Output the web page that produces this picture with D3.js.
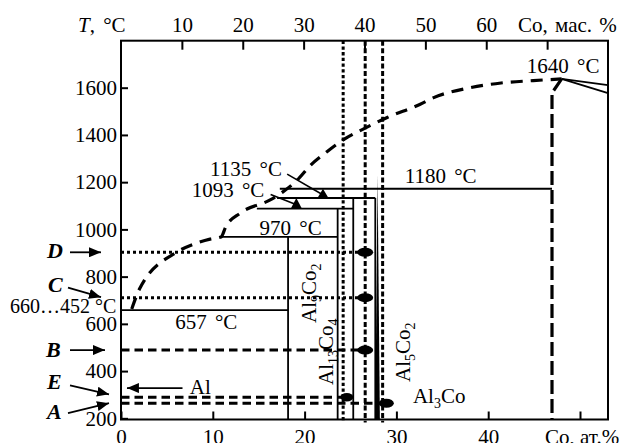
<!DOCTYPE html>
<html>
<head>
<meta charset="utf-8">
<script src="https://cdn.jsdelivr.net/npm/d3@7"></script>
<style>
body { margin: 0; background: #fff; }
text { font-family: "Liberation Serif", "DejaVu Serif", serif; fill: #000; }
</style>
</head>
<body>
<div id="chart"></div>
<script>
// ticks
const atTicks = [0, 10, 20, 30, 40, 50];
const wtTicks = [10, 20, 30, 40, 50, 60, 70];
const tempTicks = [200, 400, 600, 800, 1000, 1200, 1400, 1600];

// liquidus, Al side (at.% Co, °C)
const liquidus = [[1.17, 663], [2.07, 752], [6.1, 904], [8.3, 943], [9.7, 959], [10.9, 968],
  [11.4, 1010], [13.0, 1069], [16.2, 1124], [17.6, 1158], [19.2, 1209], [20.6, 1270],
  [22.4, 1328], [24.2, 1379], [26.6, 1429], [29.0, 1474], [32.6, 1530], [34.0, 1557],
  [37.9, 1599], [41.4, 1620], [44.9, 1630], [48.0, 1637]];
const coSide = [[48.0, 1637], [46.95, 1578], [46.95, 195]];
const peakLines = [[[48.0, 1637], [53.05, 1611]], [[48.0, 1637], [53.05, 1577]]];

// invariant lines
const isoT = [658, 968, 1088, 1133, 1172];
const isoFrom = [0, 10.9, 14.8, 17.0, 17.3];
const isoTo = [18.2, 23.6, 25.3, 27.7, 46.95];

// phase boundaries
const phaseX = [18.2, 23.6, 25.3, 27.7];
const phaseTop = [968, 1088, 1133, 1133];
const al5co2 = [[27.95, 1230], [28.2, 195], [27.7, 195]];

// alloys
const alloyNames = ["D", "C", "B", "E", "A"];
const alloyT = [903, 711, 489, 289, 264];
const alloyEnd = [26.6, 26.6, 26.6, 24.6, 28.9];
const alloyStyle = ["dot", "dot", "dash", "dash", "dash"];
const sectionX = [24.2, 26.6, 28.5];
const sectionStyle = ["dot", "dash", "dash"];

var width = 628, height = 443
var margin = {left: 121, top: 40.7, right: 20, bottom: 23.5}
var W = width - margin.left - margin.right
var H = height - margin.top - margin.bottom

var svg = d3.select("#chart").append("svg")
    .attr("width", width).attr("height", height)

var defs = svg.append("defs")
defs.append("marker").attr("id", "ah")
    .attr("viewBox", "0 0 12 10").attr("refX", 12).attr("refY", 5)
    .attr("markerWidth", 12).attr("markerHeight", 10)
    .attr("markerUnits", "userSpaceOnUse").attr("orient", "auto")
    .append("path").attr("d", "M0,0L12,5L0,10z").attr("fill", "#000")

var g = svg.append("g").attr("transform", "translate(" + margin.left + "," + margin.top + ")")

var x = d3.scaleLinear().domain([0, 53.05]).range([0, W])
var xw = d3.scaleLinear().domain([0, 80]).range([0, W])
var y = d3.scaleLinear().domain([195, 1799]).range([H, 0])

var fs = 21

// axes
var xAxis = d3.axisBottom(x).tickValues(atTicks).tickSize(-8).tickSizeOuter(0).tickPadding(10)
    .tickFormat(d => d === 50 ? "" : d)
var gx = g.append("g").attr("transform", "translate(0," + H + ")").call(xAxis)

var topAxis = d3.axisTop(xw).tickValues(wtTicks).tickSize(-9).tickSizeOuter(0).tickPadding(9)
    .tickFormat(d => d === 70 ? "" : d)
var gt = g.append("g").call(topAxis)

var yAxis = d3.axisLeft(y).tickValues(tempTicks).tickSize(-7).tickSizeOuter(0).tickPadding(4)
    .tickFormat(d3.format("d"))
var gy = g.append("g").call(yAxis)

;[gx, gt, gy].forEach(a => {
  a.select(".domain").remove()
  a.selectAll(".tick line").attr("stroke", "#000").attr("stroke-width", 2)
  a.selectAll(".tick text").attr("font-size", fs).attr("font-family", "Liberation Serif")
})

g.append("rect").attr("x", 0).attr("y", 0).attr("width", W).attr("height", H)
    .attr("fill", "none").attr("stroke", "#000").attr("stroke-width", 2)

// axis titles
var tt = svg.append("text").attr("x", 78).attr("y", 32).attr("font-size", fs).attr("word-spacing", 3)
tt.append("tspan").attr("font-style", "italic").text("T")
tt.append("tspan").text(", °C")
svg.append("text").attr("x", 518).attr("y", 32).attr("font-size", fs).attr("word-spacing", 2).text("Co, мас. %")
svg.append("text").attr("x", 545).attr("y", 444).attr("font-size", fs).text("Co, ат.%")

var line = d3.line().x(d => x(d[0])).y(d => y(d[1]))
var smooth = d3.line().x(d => x(d[0])).y(d => y(d[1])).curve(d3.curveMonotoneX)

// composition sections (vertical)
sectionX.forEach((v, i) => {
  g.append("line").attr("x1", x(v)).attr("x2", x(v)).attr("y1", 0).attr("y2", H + 3)
      .attr("stroke", "#000").attr("stroke-width", 3)
      .attr("stroke-dasharray", sectionStyle[i] === "dot" ? "3.3,2.4" : "5,2.6")
})

// alloy lines (horizontal)
alloyT.forEach((t, i) => {
  g.append("line").attr("x1", 0).attr("x2", x(alloyEnd[i])).attr("y1", y(t)).attr("y2", y(t))
      .attr("stroke", "#000").attr("stroke-width", 3)
      .attr("stroke-dasharray", alloyStyle[i] === "dot" ? "3,3" : "8.5,5")
})

// liquidus
g.append("path").datum(liquidus).attr("d", smooth)
    .attr("fill", "none").attr("stroke", "#000").attr("stroke-width", 3.2)
    .attr("stroke-dasharray", "12,8")
g.append("path").datum(coSide).attr("d", line)
    .attr("fill", "none").attr("stroke", "#000").attr("stroke-width", 3.2)
    .attr("stroke-dasharray", "14,5")
peakLines.forEach(p => {
  g.append("path").datum(p).attr("d", line).attr("fill", "none")
      .attr("stroke", "#000").attr("stroke-width", 1.8)
})

// invariant lines and phase boundaries
isoT.forEach((t, i) => {
  g.append("line").attr("x1", x(isoFrom[i])).attr("x2", x(isoTo[i]))
      .attr("y1", y(t)).attr("y2", y(t)).attr("stroke", "#000").attr("stroke-width", 1.8)
})
phaseX.forEach((v, i) => {
  g.append("line").attr("x1", x(v)).attr("x2", x(v)).attr("y1", y(phaseTop[i])).attr("y2", H)
      .attr("stroke", "#000").attr("stroke-width", 1.8)
})
g.append("path").attr("d", line(al5co2) + "Z").attr("fill", "#000")

// peritectic markers
function tri(xv, tTop, tBot) {
  var cx = x(xv), t = y(tTop), b = y(tBot)
  return "M" + cx + "," + t + "L" + (cx + 5.5) + "," + b + "L" + (cx - 5.5) + "," + b + "Z"
}
g.append("path").attr("d", tri(22.0, 1172, 1133)).attr("fill", "#000")
g.append("path").attr("d", tri(19.1, 1133, 1088)).attr("fill", "#000")
g.append("line").attr("x1", x(18.1)).attr("y1", y(1234)).attr("x2", x(22.4)).attr("y2", y(1137))
    .attr("stroke", "#000").attr("stroke-width", 1.6)
g.append("line").attr("x1", x(16.3)).attr("y1", y(1148)).attr("x2", x(19.4)).attr("y2", y(1100))
    .attr("stroke", "#000").attr("stroke-width", 1.6)

// alloy points
var ellR = [[8, 4.5], [8, 4.5], [8, 4.5], [6.5, 4.2], [7.5, 4.5]]
alloyT.forEach((t, i) => {
  g.append("ellipse").attr("cx", x(alloyEnd[i])).attr("cy", y(t))
      .attr("rx", ellR[i][0]).attr("ry", ellR[i][1]).attr("fill", "#000")
})

// alloy arrows on the left
var arrowFrom = [[-51, 0], [-53, -10], [-51, 0], [-51, -12], [-53, 10]]
var arrowTo = [[-20, 0], [-20, -0.5], [-16, 0], [-12, -3], [-12, 0]]
var letterPos = [[-74, 6], [-73, -6], [-75, 7], [-74, -8], [-74, 16]]
alloyT.forEach((t, i) => {
  var yy = y(t)
  g.append("line").attr("x1", arrowFrom[i][0]).attr("y1", yy + arrowFrom[i][1])
      .attr("x2", arrowTo[i][0]).attr("y2", yy + arrowTo[i][1])
      .attr("stroke", "#000").attr("stroke-width", 1.8).attr("marker-end", "url(#ah)")
  g.append("text").attr("x", letterPos[i][0]).attr("y", yy + letterPos[i][1])
      .attr("font-size", 22).attr("font-weight", "bold").attr("font-style", "italic")
      .text(alloyNames[i])
})

// Al arrow
g.append("line").attr("x1", x(6.7)).attr("x2", x(0.65)).attr("y1", y(328)).attr("y2", y(328))
    .attr("stroke", "#000").attr("stroke-width", 1.8).attr("marker-end", "url(#ah)")
g.append("text").attr("x", x(7.5)).attr("y", y(328) + 6).attr("font-size", fs).text("Al")

// temperature labels
var labelText = ["1640 °C", "1180 °C", "1135 °C", "1093 °C", "970 °C", "657 °C", "660…452 °C"]
var labelX = [44.2, 30.9, 9.7, 7.7, 15.1, 5.9, -12.1]
var labelT = [1662, 1196, 1226, 1137, 977, 578, 646]
labelText.forEach((s, i) => {
  g.append("text").attr("x", x(labelX[i])).attr("y", y(labelT[i]))
      .attr("font-size", i === 6 ? 20 : fs).attr("word-spacing", i === 6 ? 0 : 3).text(s)
})

// phase labels
function phase(parts, xv, tv, rot) {
  var t = g.append("text").attr("font-size", fs)
      .attr("transform", "translate(" + x(xv) + "," + y(tv) + ")" + (rot ? " rotate(-90)" : ""))
  parts.forEach(p => {
    t.append("tspan").text(p[0]).attr("font-size", p[1] ? 14 : fs)
        .attr("dy", p[1] ? 5 : (p[2] ? -5 : 0))
  })
}
phase([["Al"], ["9", 1], ["Co", 0, 1], ["2", 1]], 21.2, 604, true)
phase([["Al"], ["13", 1], ["Co", 0, 1], ["4", 1]], 23.1, 341, true)
phase([["Al"], ["5", 1], ["Co", 0, 1], ["2", 1]], 31.5, 354, true)
phase([["Al"], ["3", 1], ["Co", 0, 1]], 31.8, 265, false)
</script>
</body>
</html>
